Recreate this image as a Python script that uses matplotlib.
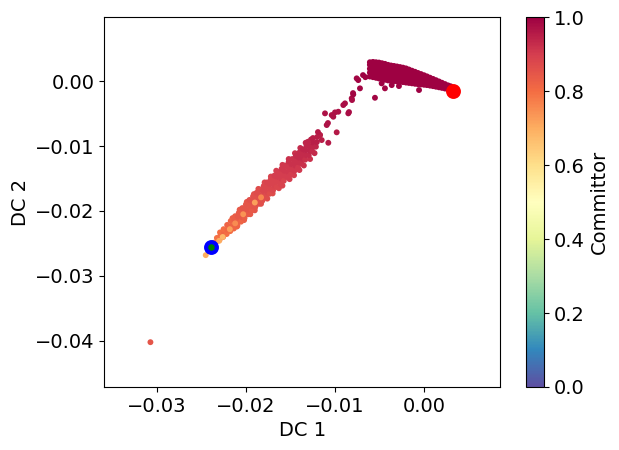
import numpy as np
import matplotlib
matplotlib.use("Agg")
import matplotlib.pyplot as plt

plt.rcParams['font.size'] = 14

# values in units of 1e-3 (DC coordinates)
band_x = [-23.8, -23.6, -23.35, -23.25,
          -22.95, -22.85, -22.9, -22.55, -22.45, -22.5, -22.15, -22.05, -22.1,
          -21.75, -21.65, -21.7, -21.35, -21.25, -21.3, -21.2,
          -20.95, -20.85, -20.9, -20.8, -20.55, -20.45, -20.5, -20.4,
          -20.15, -20.05, -20.1, -20.0, -19.75, -19.65, -19.7, -19.6,
          -19.35, -19.25, -19.3, -19.2, -18.95, -18.85, -18.9, -18.8,
          -18.55, -18.45, -18.5, -18.4, -18.15, -18.05, -18.1, -18.0,
          -17.75, -17.65, -17.7, -17.6, -17.35, -17.25, -17.3, -17.2,
          -16.95, -16.85, -16.9, -16.8, -16.55, -16.45, -16.5, -16.4,
          -16.15, -16.05, -16.1, -16.0, -15.75, -15.65, -15.7, -15.6,
          -15.35, -15.25, -15.3, -15.2, -14.95, -14.85, -14.9, -14.8,
          -14.55, -14.45, -14.5, -14.4, -14.15, -14.05, -14.1, -14.0,
          -13.75, -13.65, -13.7, -13.6, -13.35, -13.25, -13.3, -13.2,
          -12.95, -12.85, -12.9, -12.55, -12.45, -12.5, -12.15, -12.05]
band_y = [-25.3, -24.9, -24.8, -24.15,
          -24.45, -23.75, -23.3, -24.0, -23.4, -22.8, -23.55, -22.9, -22.15,
          -23.1, -22.35, -21.55, -22.7, -22.0, -21.3, -20.8,
          -22.25, -21.55, -20.85, -20.3, -21.65, -20.95, -20.25, -19.55,
          -21.1, -20.4, -19.7, -19.0, -20.5, -19.8, -19.1, -18.3,
          -19.95, -19.25, -18.55, -17.75, -19.4, -18.7, -18.0, -17.2,
          -18.9, -18.2, -17.5, -16.7, -18.4, -17.65, -16.9, -16.15,
          -17.85, -17.1, -16.35, -15.6, -17.35, -16.6, -15.85, -15.1,
          -16.8, -16.05, -15.3, -14.55, -16.3, -15.5, -14.75, -14.0,
          -15.8, -15.0, -14.25, -13.5, -15.35, -14.55, -13.8, -13.0,
          -14.8, -14.0, -13.25, -12.45, -14.35, -13.55, -12.8, -12.0,
          -13.8, -13.0, -12.25, -11.5, -13.3, -12.5, -11.75, -11.0,
          -12.7, -11.95, -11.2, -10.5, -12.1, -11.4, -10.65, -9.95,
          -11.4, -10.7, -10.0, -10.8, -10.1, -9.45, -10.1, -9.4]
band_c = [0.78, 0.78, 0.78, 0.79,
          0.79, 0.80, 0.80, 0.79, 0.81, 0.80, 0.80, 0.81, 0.82,
          0.80, 0.82, 0.82, 0.81, 0.82, 0.83, 0.83,
          0.82, 0.83, 0.84, 0.84, 0.82, 0.84, 0.84, 0.85,
          0.83, 0.84, 0.85, 0.85, 0.84, 0.85, 0.85, 0.86,
          0.84, 0.85, 0.86, 0.86, 0.85, 0.86, 0.86, 0.87,
          0.86, 0.86, 0.87, 0.87, 0.86, 0.87, 0.88, 0.88,
          0.87, 0.88, 0.88, 0.89, 0.87, 0.88, 0.89, 0.89,
          0.88, 0.89, 0.89, 0.90, 0.88, 0.89, 0.90, 0.90,
          0.89, 0.90, 0.90, 0.91, 0.89, 0.90, 0.91, 0.91,
          0.90, 0.91, 0.91, 0.92, 0.90, 0.91, 0.92, 0.92,
          0.91, 0.92, 0.92, 0.93, 0.91, 0.92, 0.93, 0.93,
          0.92, 0.93, 0.93, 0.94, 0.92, 0.93, 0.94, 0.94,
          0.93, 0.94, 0.94, 0.93, 0.94, 0.95, 0.94, 0.95]

edge_x = [-21.0, -20.2, -19.5, -19.0, -18.3, -17.6, -17.0, -16.3, -15.9, -15.1,
          -14.6, -14.0, -13.5, -12.8, -12.3,
          -21.5, -20.7, -19.9, -19.1, -18.6, -17.9, -17.2, -16.6, -15.9, -15.2,
          -14.5, -13.9, -13.3, -12.7, -12.0, -11.7]
edge_y = [-22.4, -21.4, -20.5, -19.9, -18.9, -18.1, -17.3, -16.5, -16.1, -15.1,
          -14.5, -13.7, -13.0, -12.0, -11.1,
          -21.1, -19.8, -18.6, -17.4, -16.6, -15.6, -14.7, -13.8, -12.9, -12.0,
          -11.1, -10.3, -9.5, -9.0, -8.6, -8.3]
edge_c = [0.82, 0.83, 0.84, 0.85, 0.86, 0.87, 0.87, 0.88, 0.89, 0.90,
          0.90, 0.91, 0.92, 0.92, 0.93,
          0.83, 0.84, 0.85, 0.86, 0.87, 0.88, 0.89, 0.90, 0.91, 0.92,
          0.92, 0.93, 0.94, 0.95, 0.95, 0.95]

light_x = [-24.5, -23.0, -22.6, -21.8, -21.2, -20.3, -19.0, -18.3]
light_y = [-26.8, -24.6, -24.0, -22.8, -21.9, -20.5, -18.7, -17.9]
light_c = [0.70, 0.70, 0.68, 0.72, 0.75, 0.74, 0.72, 0.76]

sparse_x = [-13.04, -12.48, -11.69, -11.5, -10.76, -11.92, -9.82, -10.94, -10.8,
            -11.13, -10.38, -10.01, -9.64, -10.2, -8.52, -8.44, -9.08, -8.89,
            -8.1, -8.14, -7.96, -7.99, -7.21, -7.40, -7.58, -5.53, -4.41, -3.65,
            -4.78, -6.87, -6.6, -2.84, -0.59, -30.7]
sparse_y = [-9.34, -8.77, -8.31, -9.08, -9.5, -7.85, -7.89, -6.77, -6.46,
            -4.97, -5.23, -4.82, -4.72, -5.49, -4.97, -4.77, -3.69, -3.43,
            -2.92, -2.66, -2.05, -1.85, -1.12, 0.15, 0.42, -2.57, -1.12, -0.62,
            -0.35, 0.92, 0.6, -0.77, -1.38, -40.2]
sparse_c = [0.94, 0.95, 0.95, 0.95, 0.96, 0.96, 0.96, 0.97, 0.97,
            0.97, 0.97, 0.97, 0.97, 0.97, 0.98, 0.98, 0.98, 0.98,
            0.98, 0.98, 0.99, 0.99, 0.99, 0.99, 0.99, 0.99, 0.99, 1.0,
            1.0, 1.0, 1.0, 1.0, 1.0, 0.85]

blob_x = [-6.10] * 5 + [-5.75] * 5 + [-5.41] * 5 + [-5.08] * 5 + [-4.74] * 5 + \
         [-4.41] * 5 + [-4.07] * 5 + [-3.73] * 5 + [-3.40] * 5 + [-3.06] * 5 + \
         [-2.72] * 5 + [-2.39] * 5 + [-2.05] * 5 + [-1.72] * 5 + [-1.38] * 4 + \
         [-1.04] * 4 + [-0.71] * 4 + [-0.37] * 4 + [-0.03] * 4 + [0.30] * 4 + \
         [0.64] * 3 + [0.98] * 3 + [1.31] * 3 + [1.65] * 3 + [1.98] * 3 + \
         [2.32] * 2 + [2.66] * 2 + [2.95] * 2
blob_y = [0.7, 1.3, 1.9, 2.5, 2.9,
          0.6, 1.2, 1.8, 2.4, 2.95,
          0.5, 1.1, 1.7, 2.3, 2.9,
          0.4, 1.0, 1.6, 2.2, 2.85,
          0.3, 0.9, 1.5, 2.1, 2.75,
          0.2, 0.8, 1.4, 2.0, 2.65,
          0.1, 0.7, 1.3, 1.9, 2.5,
          0.05, 0.65, 1.25, 1.85, 2.4,
          0.0, 0.6, 1.2, 1.8, 2.33,
          -0.05, 0.55, 1.15, 1.7, 2.25,
          -0.1, 0.5, 1.1, 1.65, 2.16,
          -0.16, 0.45, 1.05, 1.6, 2.07,
          -0.23, 0.35, 0.95, 1.5, 1.95,
          -0.29, 0.3, 0.9, 1.4, 1.78,
          -0.35, 0.25, 0.9, 1.6,
          -0.42, 0.2, 0.8, 1.43,
          -0.47, 0.1, 0.7, 1.25,
          -0.52, 0.05, 0.6, 1.08,
          -0.57, 0.0, 0.5, 0.9,
          -0.62, -0.1, 0.35, 0.72,
          -0.7, -0.1, 0.52,
          -0.78, -0.2, 0.33,
          -0.87, -0.35, 0.14,
          -0.96, -0.5, -0.06,
          -1.05, -0.65, -0.26,
          -1.15, -0.46,
          -1.25, -0.66,
          -1.3, -0.8]
blob_c = [1.0] * len(blob_y)

state_b = (3.22, -1.54)   # red, committor 1
state_a = (-23.92, -25.54)  # blue/green, committor 0

xs = np.array(edge_x + band_x + sparse_x + blob_x + light_x) * 1e-3
ys = np.array(edge_y + band_y + sparse_y + blob_y + light_y) * 1e-3
cs = np.array(edge_c + band_c + sparse_c + blob_c + light_c)

fig = plt.figure(figsize=(6.19, 4.5), dpi=100)
ax = fig.add_axes([0.1688, 0.14, 0.639, 0.822])
cax = fig.add_axes([0.8493, 0.14, 0.0296, 0.822])

sc = ax.scatter(xs, ys, c=cs, cmap='Spectral_r', vmin=0, vmax=1, s=18, linewidths=0)
ax.scatter([state_b[0] * 1e-3], [state_b[1] * 1e-3], color='red', s=115, linewidths=0, zorder=3)
ax.scatter([state_a[0] * 1e-3], [state_a[1] * 1e-3], color='blue', s=115, linewidths=0, zorder=3)
ax.scatter([state_a[0] * 1e-3], [state_a[1] * 1e-3], color='green', s=22, linewidths=0, zorder=4)

ax.set_xlim(-0.03585, 0.00849)
ax.set_ylim(-0.0471, 0.00985)
ax.set_xticks([-0.03, -0.02, -0.01, 0.00])
ax.set_yticks([-0.04, -0.03, -0.02, -0.01, 0.00])
ax.set_xticklabels(['\u22120.03', '\u22120.02', '\u22120.01', '0.00'])
ax.set_yticklabels(['\u22120.04', '\u22120.03', '\u22120.02', '\u22120.01', '0.00'])
ax.set_xlabel('DC 1')
ax.set_ylabel('DC 2')

cb = fig.colorbar(sc, cax=cax)
cb.set_ticks([0.0, 0.2, 0.4, 0.6, 0.8, 1.0])
cb.set_label('Committor')

fig.savefig('out.png', dpi=100)
